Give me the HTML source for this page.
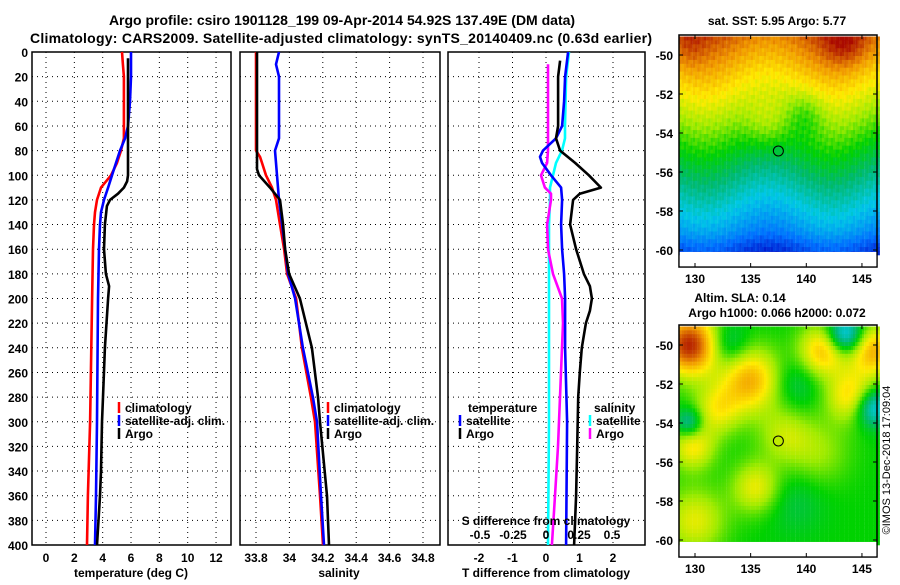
<!DOCTYPE html>
<html><head><meta charset="utf-8"><style>
html,body{margin:0;padding:0;background:#fff;}
svg text{font-family:"Liberation Sans",sans-serif;font-weight:bold;fill:#000;}
</style></head><body>
<svg id="c" width="900" height="580" viewBox="0 0 900 580" xmlns="http://www.w3.org/2000/svg">
<text x="342" y="25" font-size="14" text-anchor="middle">Argo profile: csiro 1901128_199 09-Apr-2014 54.92S 137.49E (DM data)</text>
<text x="341" y="43" font-size="14" text-anchor="middle" textLength="622">Climatology: CARS2009. Satellite-adjusted climatology: synTS_20140409.nc (0.63d earlier)</text>
<text x="777" y="25" font-size="12" text-anchor="middle">sat. SST: 5.95 Argo: 5.77</text>
<text x="740" y="302" font-size="12" text-anchor="middle">Altim. SLA: 0.14</text>
<text x="777" y="317" font-size="12" text-anchor="middle">Argo h1000: 0.066 h2000: 0.072</text>
<text transform="translate(890,460) rotate(-90)" font-size="11" style="font-weight:normal" text-anchor="middle">©IMOS 13-Dec-2018 17:09:04</text>
<g id="maps"></g>
<g id="panels"></g>
</svg>
<script>
// ---- data (depth in m) ----
const tClimDepth=[0,10,20,40,60,70,80,90,100,110,120,130,140,160,200,300,360,400];
const tClim=[5.36,5.43,5.50,5.50,5.50,5.50,5.29,5.01,4.59,3.88,3.60,3.46,3.39,3.32,3.25,3.11,2.96,2.89];
const tSatDepth=[0,20,40,60,70,80,90,100,110,120,130,140,160,200,300,360,400];
const tSat=[6.0,6.0,5.93,5.79,5.58,5.22,4.94,4.66,4.38,4.09,3.88,3.81,3.74,3.67,3.60,3.53,3.46];
const tArgoDepth=[5,100,105,110,115,120,125,140,160,180,190,200,240,280,300,340,360,400];
const tArgo=[5.79,5.79,5.72,5.50,5.08,4.52,4.30,4.16,4.09,4.23,4.45,4.38,4.16,4.02,3.95,3.88,3.81,3.60];
const sClimDepth=[0,80,85,90,100,110,120,130,140,160,180,200,240,280,300,360,400];
const sClim=[33.80,33.80,33.824,33.836,33.86,33.896,33.92,33.932,33.944,33.968,33.986,34.04,34.075,34.129,34.153,34.183,34.201];
const sSatDepth=[0,10,20,70,80,90,100,120,140,160,180,200,240,280,300,360,400];
const sSat=[33.938,33.92,33.938,33.938,33.914,33.92,33.926,33.938,33.956,33.974,33.992,34.034,34.081,34.141,34.165,34.189,34.207];
const sArgoDepth=[0,95,100,110,120,140,160,180,200,240,280,300,360,400];
const sArgo=[33.806,33.806,33.818,33.884,33.944,33.962,33.974,33.998,34.063,34.135,34.171,34.183,34.225,34.237];
const dTArgoDepth=[7,20,60,70,80,90,100,110,115,120,140,160,180,190,200,210,220,240,260,280,320,360,400];
const dTArgo=[0.42,0.36,0.36,0.30,0.42,0.87,1.28,1.64,1.01,0.81,0.72,0.90,1.13,1.31,1.37,1.31,1.19,1.07,1.01,0.96,0.93,0.90,0.84];
const dTSatDepth=[0,20,40,60,70,80,85,90,100,110,120,140,160,180,200,240,300,400];
const dTSat=[0.66,0.57,0.54,0.48,0.30,-0.09,-0.18,-0.12,0.15,0.45,0.48,0.45,0.48,0.54,0.57,0.57,0.63,0.60];
const dSSatDepth=[0,20,60,70,80,90,100,110,120,140,200,300,400];
const dSSat=[0.174,0.152,0.144,0.144,0.121,0.076,0.053,0.030,0.030,0.023,0.023,0.023,0.015];
const dSArgoDepth=[10,80,90,100,110,115,120,140,160,180,200,220,260,320,360,400];
const dSArgo=[0.015,0.015,0.008,-0.038,-0.008,0.038,0.038,0.008,0.015,0.053,0.121,0.129,0.114,0.091,0.068,0.045];
const depthTicks=[0,20,40,60,80,100,120,140,160,180,200,220,240,260,280,300,320,340,360,380,400];
const tTicks=[0,2,4,6,8,10,12];
const sTicks=[33.8,34,34.2,34.4,34.6,34.8];
const sTickLabels=["33.8","34","34.2","34.4","34.6","34.8"];
const dTTicks=[-2,-1,0,1,2];
const dSTicks=[-0.5,-0.25,0,0.25,0.5];
const lonTicks=[130,135,140,145];
const latTicks=[-50,-52,-54,-56,-58,-60];
const floatLon=137.49, floatLat=-54.92;
// SLA blobs: lon, lat, amplitude, radius (deg)
const slaBlobs=[[129.5,-50,0.45,1.4],[135,-51.8,0.28,1.5],[141.5,-50.3,0.26,1.2],[146,-50.3,0.28,1.2],[144,-52.6,0.22,1.2],[132,-53.3,0.17,1.2],[129.8,-55.2,0.2,1.1],[135.5,-57.3,0.18,1.2],[130,-59,0.17,1.5],[138,-54.6,0.12,1.3],[141,-55.5,0.1,1.6],[143.5,-49.5,-0.3,0.9],[146,-53.2,-0.25,0.9],[129.5,-54,-0.2,0.7],[133,-50,-0.12,1.0],[139,-52,-0.08,1.2],[139,-58,-0.06,1.5]];

const NS="http://www.w3.org/2000/svg";
const panels=document.getElementById('panels'), maps=document.getElementById('maps');
function mk(tag,attrs,parent){const e=document.createElementNS(NS,tag);for(const k in attrs)e.setAttribute(k,attrs[k]);(parent||panels).appendChild(e);return e;}
const yD=d=>52+d*493/400;
const xT=t=>46+t*14.17;
const xS=s=>256+(s-33.8)*167;
const xDT=t=>546+t*33.5;
const xDS=s=>546+s*132;

function frame(x0,x1,name){
  const r=mk('rect',{x:x0,y:52,width:x1-x0,height:493,fill:'none',stroke:'#000','stroke-width':1.5});
  
  
  depthTicks.forEach(d=>{if(d>0&&d<400){const l=mk('line',{x1:x0,x2:x1,y1:yD(d),y2:yD(d),stroke:'#000','stroke-dasharray':'1 4'});}});
}
function vgrid(xs,name){xs.forEach(x=>{const l=mk('line',{x1:x,x2:x,y1:52,y2:545,stroke:'#000','stroke-dasharray':'1 4'});});}
function txt(x,y,s,size,anchor,name){const t=mk('text',{x:x,y:y,'font-size':size,'text-anchor':anchor});t.textContent=s;return t;}
function line(depths,vals,xf,color,name){
  const pts=depths.map((d,i)=>xf(vals[i]).toFixed(1)+','+yD(d).toFixed(1)).join(' ');
  const p=mk('polyline',{points:pts,fill:'none',stroke:color,'stroke-width':2.6,'stroke-linejoin':'round'});
  
  
}
function legend(x,y,color,label,name){
  const l=mk('line',{x1:x,x2:x,y1:y-10,y2:y+1,stroke:color,'stroke-width':2.5});
  
  
  txt(x+6,y,label,12,'start',name+'-label');
}
depthTicks.forEach(d=>txt(28,yD(d)+5,String(d),12,'end','depth-tick-label'));

// panel 1
frame(32,231,'temperature-panel'); vgrid(tTicks.map(xT),'temperature');
tTicks.forEach(t=>txt(xT(t),562,String(t),12,'middle','temperature-tick-label'));
txt(131,577,'temperature (deg C)',12,'middle','temperature-axis-title');
line(tClimDepth,tClim,xT,'#ff0000','temperature-climatology-line');
line(tSatDepth,tSat,xT,'#0000ff','temperature-satellite-line');
line(tArgoDepth,tArgo,xT,'#000000','temperature-argo-line');
legend(119,412,'#ff0000','climatology','temp-legend-climatology');
legend(119,425,'#0000ff','satellite-adj. clim.','temp-legend-satellite');
legend(119,438,'#000000','Argo','temp-legend-argo');

// panel 2
frame(240,440,'salinity-panel'); vgrid(sTicks.map(xS),'salinity');
sTicks.forEach((s,i)=>txt(xS(s),562,sTickLabels[i],12,'middle','salinity-tick-label'));
txt(339,577,'salinity',12,'middle','salinity-axis-title');
line(sClimDepth,sClim,xS,'#ff0000','salinity-climatology-line');
line(sSatDepth,sSat,xS,'#0000ff','salinity-satellite-line');
line(sArgoDepth,sArgo,xS,'#000000','salinity-argo-line');
legend(328,412,'#ff0000','climatology','sal-legend-climatology');
legend(328,425,'#0000ff','satellite-adj. clim.','sal-legend-satellite');
legend(328,438,'#000000','Argo','sal-legend-argo');

// panel 3
frame(448,645,'difference-panel'); vgrid(dTTicks.map(xDT),'difference');
dTTicks.forEach(t=>txt(xDT(t),562,String(t),12,'middle','t-diff-tick-label'));
txt(546,577,'T difference from climatology',12,'middle','t-diff-axis-title');
line(dSSatDepth,dSSat,xDS,'#00ffff','s-diff-satellite-line');
line(dSArgoDepth,dSArgo,xDS,'#ff00ff','s-diff-argo-line');
line(dTSatDepth,dTSat,xDT,'#0000ff','t-diff-satellite-line');
line(dTArgoDepth,dTArgo,xDT,'#000000','t-diff-argo-line');
txt(546,525,'S difference from climatology',12,'middle','s-diff-axis-title');
dSTicks.forEach(s=>txt(xDS(s),539,String(s),12,'middle','s-diff-tick-label'));
txt(468,412,'temperature',12,'start','diff-legend-temperature-header');
legend(460,425,'#0000ff','satellite','diff-legend-t-satellite');
legend(460,438,'#000000','Argo','diff-legend-t-argo');
txt(594,412,'salinity',12,'start','diff-legend-salinity-header');
legend(590,425,'#00ffff','satellite','diff-legend-s-satellite');
legend(590,438,'#ff00ff','Argo','diff-legend-s-argo');

// ---- maps ----
const lonX=lon=>695+(lon-130)*11.13;
function jet(v){
  const st=[[0,[0,0,190]],[0.15,[0,110,255]],[0.3,[0,200,230]],[0.42,[0,185,110]],[0.52,[0,210,0]],[0.62,[160,235,0]],[0.72,[255,235,0]],[0.84,[240,150,0]],[1,[170,10,0]]];
  v=Math.max(0,Math.min(1,v));
  for(let i=1;i<st.length;i++){if(v<=st[i][0]){const a=st[i-1],b=st[i],f=(v-a[0])/(b[0]-a[0]);return 'rgb('+a[1].map((c,k)=>Math.round(c+(b[1][k]-c)*f)).join(',')+')';}}
  return 'rgb(170,10,0)';
}
function sst(lon,lat){
  let v=0.15+(lat+60)*0.068;
  v+=0.04*Math.sin((lon-128)*0.55)+0.08*Math.exp(-((lon-136.5)**2)/4)*Math.exp(-((lat+53.5)**2)/2);
  v-=0.08*Math.exp(-((lon-140)**2)/3)*Math.exp(-((lat+53)**2)/1.5);
  v+=0.1*Math.exp(-((lon-143.5)**2)/4)*Math.exp(-((lat+49.5)**2)/1.2);
  v+=0.05*Math.exp(-((lon-129.5)**2)/2)*Math.exp(-((lat+49.5)**2)/1.5);
  v-=0.05*Math.exp(-((lat+60)**2)/0.5);
  v+=0.025*Math.sin(lon*7.3+lat*5.1)*Math.cos(lon*3.7-lat*9.2);
  return v;
}
function sla(lon,lat){let v=0.52;slaBlobs.forEach(b=>{v+=b[2]*Math.exp(-(((lon-b[0])**2)/(2*b[3]*b[3]*1.6))-(((lat-b[1])**2)/(2*b[3]*b[3]*0.6)));});return v;}
function drawMap(y50,fn,name){
  const latY=lat=>y50+(-50-lat)*19.5;
  const g=mk('g',{},maps);
  
  
  for(let lat=-49.05;lat>-60.1;lat-=0.2){for(let lon=128.6;lon<146.4;lon+=0.2){
    mk('rect',{x:lonX(lon).toFixed(1),y:latY(lat).toFixed(1),width:2.4,height:4.3,fill:jet(fn(lon+0.1,lat-0.1))},g);
  }}
  const top=y50-20, bot=y50+212;
  const f=mk('rect',{x:679,y:top,width:198,height:bot-top,fill:'none',stroke:'#000','stroke-width':1.5},maps);
  
  
  mk('rect',{x:679.8,y:latY(-60.1),width:196.5,height:bot-latY(-60.1)-0.8,fill:'#fff'},maps);
  latTicks.forEach(l=>{const t=mk('text',{x:673,y:latY(l)+5,'font-size':12,'text-anchor':'end'},maps);t.textContent=String(l);
    mk('line',{x1:679,x2:683,y1:latY(l),y2:latY(l),stroke:'#000'},maps);mk('line',{x1:873,x2:877,y1:latY(l),y2:latY(l),stroke:'#000'},maps);});
  lonTicks.forEach(l=>{const t=mk('text',{x:lonX(l),y:bot+16,'font-size':12,'text-anchor':'middle'},maps);t.textContent=String(l);
    mk('line',{x1:lonX(l),x2:lonX(l),y1:top,y2:top+4,stroke:'#000'},maps);mk('line',{x1:lonX(l),x2:lonX(l),y1:bot-4,y2:bot,stroke:'#000'},maps);});
  const c=mk('circle',{cx:lonX(floatLon),cy:latY(floatLat),r:5,fill:jet(fn(floatLon,floatLat)),stroke:'#000','stroke-width':1},maps);
  
  
}
drawMap(55,sst,'sst-map');
drawMap(345,sla,'sla-map');
</script>
</body></html>
